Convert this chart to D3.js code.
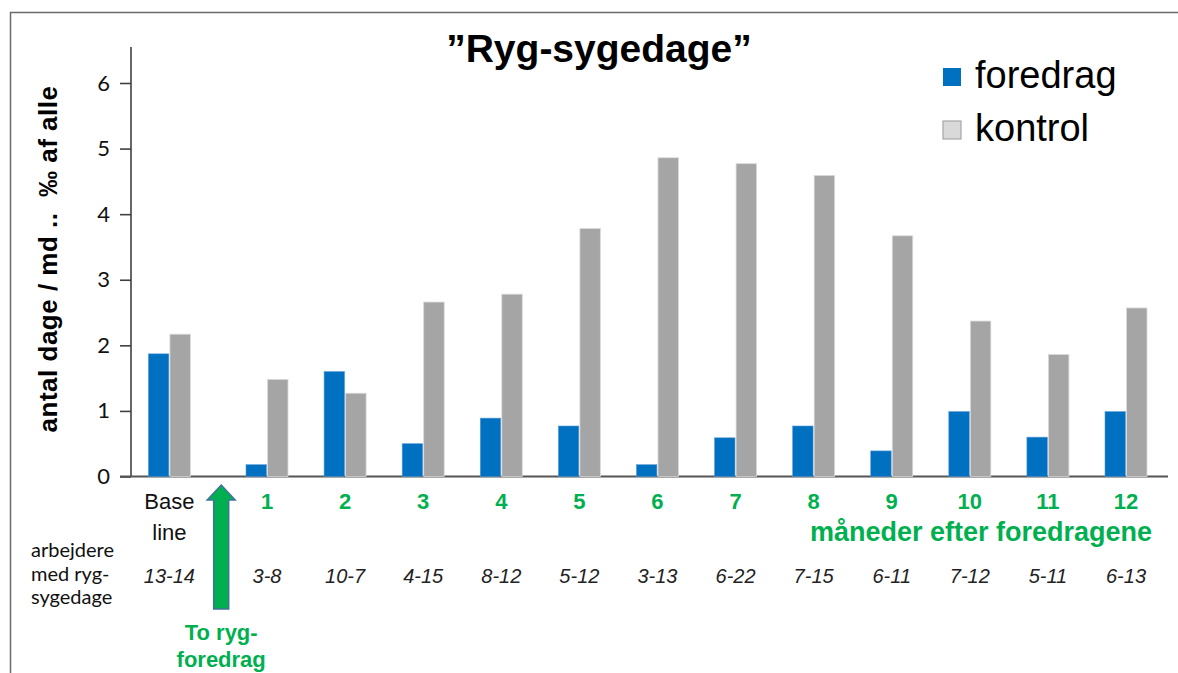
<!DOCTYPE html>
<html>
<head>
<meta charset="utf-8">
<script src="https://cdn.jsdelivr.net/npm/d3@7"></script>
<style>
  body { margin: 0; background: #fff; }
  svg { display: block; }
</style>
</head>
<body>
<svg id="chart"></svg>
<script>
// data
var categories = ["Base line", "1", "2", "3", "4", "5", "6", "7", "8", "9", "10", "11", "12"];
var foredrag = [1.87, 0.18, 1.6, 0.5, 0.89, 0.77, 0.18, 0.59, 0.77, 0.39, 0.99, 0.6, 0.99];
var kontrol = [2.17, 1.48, 1.27, 2.66, 2.78, 3.78, 4.86, 4.77, 4.59, 3.67, 2.37, 1.86, 2.57];
var arbejdere = ["13-14", "3-8", "10-7", "4-15", "8-12", "5-12", "3-13", "6-22", "7-15", "6-11", "7-12", "5-11", "6-13"];
var yTicks = [0, 1, 2, 3, 4, 5, 6];
var seriesNames = ["foredrag", "kontrol"];
var colors = { foredrag: "#0070c0", kontrol: "#a5a5a5" };

var W = 1178, H = 673;
var green = "#00b050";
var arial = "'Liberation Sans', Arial, sans-serif";

var svg = d3.select("#chart").attr("width", W).attr("height", H);

// frame
svg.append("path")
  .attr("d", "M10.5," + H + "V12.5H" + W)
  .attr("fill", "none")
  .attr("stroke", "#6b6b6b")
  .attr("stroke-width", 1.5);

var y = d3.scaleLinear().domain([0, 6]).range([476.5, 83]);

// base line sits a bit further left than a regular month step
var slot = function (i) { return i === 0 ? -0.25 : i; };
var x = d3.scaleLinear().domain([1, 12]).range([267, 1126]);
var inner = d3.scaleBand().domain(seriesNames).range([-21, 21]).paddingInner(0.05);

// y axis
var yAxis = svg.append("g")
  .attr("transform", "translate(131,0)")
  .call(d3.axisLeft(y).tickValues(yTicks).tickSize(11).tickPadding(10).tickFormat(d3.format("d")));
yAxis.select(".domain").attr("d", "M0," + y(6.55) + "V" + y(0));
yAxis.selectAll("path, line").attr("stroke", "#404040").attr("stroke-width", 1.6);
yAxis.selectAll("text")
  .attr("font-family", "Lato, 'Liberation Sans', sans-serif")
  .attr("font-size", 22)
  .attr("fill", "#111");

// x axis line
svg.append("line")
  .attr("x1", 120).attr("x2", 1168)
  .attr("y1", y(0)).attr("y2", y(0))
  .attr("stroke", "#555").attr("stroke-width", 1.8);

// bars
var groups = svg.selectAll(".grp")
  .data(categories)
  .enter().append("g")
  .attr("class", "grp")
  .attr("transform", function (d, i) { return "translate(" + x(slot(i)) + ",0)"; });

groups.append("rect")
  .attr("x", inner("foredrag"))
  .attr("width", inner.bandwidth())
  .attr("y", function (d, i) { return y(foredrag[i]); })
  .attr("height", function (d, i) { return y(0) - y(foredrag[i]); })
  .attr("fill", colors.foredrag)
  .attr("stroke", "#5b9bd5").attr("stroke-width", 0.6);

groups.append("rect")
  .attr("x", inner("kontrol"))
  .attr("width", inner.bandwidth())
  .attr("y", function (d, i) { return y(kontrol[i]); })
  .attr("height", function (d, i) { return y(0) - y(kontrol[i]); })
  .attr("fill", colors.kontrol)
  .attr("stroke", "#d9d9d9").attr("stroke-width", 0.8);

// category labels
groups.each(function (d, i) {
  var g = d3.select(this);
  if (i === 0) {
    var t = g.append("text")
      .attr("text-anchor", "middle")
      .attr("font-family", arial)
      .attr("font-size", 22)
      .attr("fill", "#111");
    t.append("tspan").attr("x", 0).attr("y", 509).text("Base");
    t.append("tspan").attr("x", 0).attr("y", 540).text("line");
  } else {
    g.append("text")
      .attr("x", 0).attr("y", 509)
      .attr("text-anchor", "middle")
      .attr("font-family", arial)
      .attr("font-weight", "bold")
      .attr("font-size", 22)
      .attr("fill", green)
      .text(d);
  }
  g.append("text")
    .attr("x", 0).attr("y", 583)
    .attr("text-anchor", "middle")
    .attr("font-family", arial)
    .attr("font-style", "italic")
    .attr("font-size", 20)
    .attr("fill", "#222")
    .text(arbejdere[i]);
});

svg.append("text")
  .attr("x", 1152).attr("y", 541)
  .attr("text-anchor", "end")
  .attr("font-family", arial)
  .attr("font-weight", "bold")
  .attr("font-size", 27)
  .attr("fill", green)
  .text("måneder efter foredragene");

// row caption
var cap = svg.append("text")
  .attr("font-family", "Lato, 'Liberation Sans', sans-serif")
  .attr("font-size", 20)
  .attr("fill", "#111");
["arbejdere", "med ryg-", "sygedage"].forEach(function (s, k) {
  cap.append("tspan").attr("x", 31).attr("y", 557 + k * 23.5).text(s);
});

// lecture arrow between base line and month 1
var ax = (x(slot(0)) + x(slot(1))) / 2 + 3;
var arrow = d3.path();
arrow.moveTo(ax, 485);
arrow.lineTo(ax + 14, 500);
arrow.lineTo(ax + 7.5, 500);
arrow.lineTo(ax + 7.5, 609);
arrow.lineTo(ax - 7.5, 609);
arrow.lineTo(ax - 7.5, 500);
arrow.lineTo(ax - 14, 500);
arrow.closePath();
svg.append("path")
  .attr("d", arrow.toString())
  .attr("fill", green)
  .attr("stroke", "#41719c")
  .attr("stroke-width", 1.5);

var lec = svg.append("text")
  .attr("text-anchor", "middle")
  .attr("font-family", arial)
  .attr("font-weight", "bold")
  .attr("font-size", 22)
  .attr("fill", green);
lec.append("tspan").attr("x", ax).attr("y", 640).text("To ryg-");
lec.append("tspan").attr("x", ax).attr("y", 667).text("foredrag");

// title
svg.append("text")
  .attr("x", 599).attr("y", 62)
  .attr("text-anchor", "middle")
  .attr("font-family", arial)
  .attr("font-weight", "bold")
  .attr("font-size", 39)
  .attr("fill", "#000")
  .text("\u201DRyg-sygedage\u201D");

// y label
svg.append("text")
  .attr("transform", "translate(57,259) rotate(-90)")
  .attr("text-anchor", "middle")
  .attr("font-family", arial)
  .attr("font-weight", "bold")
  .attr("font-size", 26)
  .attr("letter-spacing", 0.5)
  .attr("fill", "#000")
  .style("white-space", "pre")
  .text("antal dage / md ..  \u2030 af alle");

// legend
var legend = svg.selectAll(".leg")
  .data(seriesNames)
  .enter().append("g")
  .attr("class", "leg")
  .attr("transform", function (d, i) { return "translate(943," + (68 + i * 53) + ")"; });
legend.append("rect")
  .attr("width", 18).attr("height", 18)
  .attr("fill", function (d) { return d === "foredrag" ? colors.foredrag : "#d9d9d9"; })
  .attr("stroke", function (d) { return d === "foredrag" ? "none" : "#a5a5a5"; })
  .attr("stroke-width", 1.2);
legend.append("text")
  .attr("x", 32).attr("y", 20)
  .attr("font-family", arial)
  .attr("font-size", 38)
  .attr("fill", "#000")
  .text(function (d) { return d; });
</script>
</body>
</html>
